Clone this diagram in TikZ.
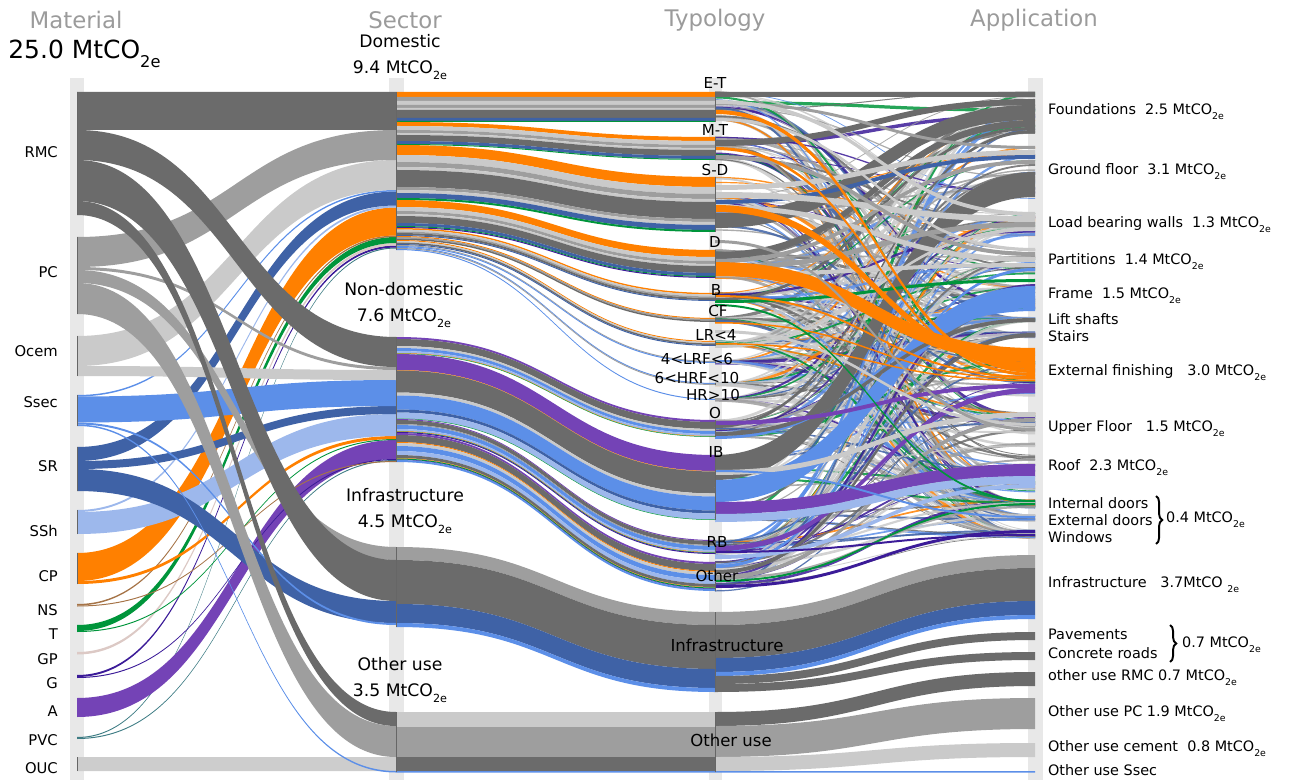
\documentclass[tikz,border=0pt]{standalone}
\usepackage{fontspec}
\setmainfont{DejaVu Sans}
\usetikzlibrary{decorations.pathreplacing}

\definecolor{rmc}{HTML}{6B6B6B}
\definecolor{pc}{HTML}{9E9E9E}
\definecolor{ocem}{HTML}{CACACA}
\definecolor{ssec}{HTML}{5C8FE8}
\definecolor{sr}{HTML}{3F62A6}
\definecolor{ssh}{HTML}{9DB8EC}
\definecolor{cp}{HTML}{FF8000}
\definecolor{ns}{HTML}{A67448}
\definecolor{tim}{HTML}{00953B}
\definecolor{gp}{HTML}{DCC9C5}
\definecolor{gla}{HTML}{3B1B98}
\definecolor{alu}{HTML}{7443B6}
\definecolor{pvc}{HTML}{3E7C84}
\definecolor{ouc}{HTML}{CDCDCD}
\definecolor{barc}{HTML}{E8E8E8}
\definecolor{headgrey}{HTML}{9B9B9B}

% subscript of the unit
\newcommand{\subtx}[1]{\raisebox{-0.35em}{\scalebox{0.65}{#1}}}
\newcommand{\unit}{MtCO\subtx{2e}}

% one flow: x1, y1, x2, y2, width, colour
\newcommand{\band}[6]{%
  \fill[fill=#6] (#1,#2) .. controls ({(#1+#3)/2},#2) and ({(#1+#3)/2},#4) .. (#3,#4)
    -- (#3,{#4+#5}) .. controls ({(#1+#3)/2},{#4+#5}) and ({(#1+#3)/2},{#2+#5}) .. (#1,{#2+#5}) -- cycle;}

% flows stacked on each other: x1, y1, x2, y2, list colour/width
\newcommand{\stackband}[5]{%
  \gdef\sboff{0}%
  \foreach \cc/\ww in {#5}{%
    \band{#1}{#2+\sboff}{#3}{#4+\sboff}{\ww}{\cc}%
    \pgfmathsetmacro\sbnew{\sboff+\ww}%
    \global\let\sboff\sbnew
  }}

% colour of a thin flow
\newcommand{\thincol}[1]{\ifcase\numexpr#1\relax ocem\or pc\or ocem\or rmc\or pc\or sr\or tim\or gla\or cp\or ssec\or ocem\else pc\fi}

\begin{document}
\begin{tikzpicture}[x=0.02cm, y=-0.02cm,
  head/.style={text=headgrey, font=\fontsize{13}{15}\selectfont},
  sect/.style={align=center, inner sep=0pt, font=\fontsize{9.8}{14.7}\selectfont},
  matl/.style={anchor=east, font=\fontsize{8.4}{10}\selectfont},
  typl/.style={inner sep=0.5pt, font=\fontsize{8.6}{10}\selectfont},
  appl/.style={anchor=west, inner sep=1pt, font=\fontsize{8.2}{10}\selectfont},
  nodeline/.style={draw=black!60, line width=0.5pt},
  brace/.style={decorate, decoration={brace, amplitude=3.5pt}, line width=1.1pt}]

\useasboundingbox (0,0) rectangle (1301,780);

% COLUMN BARS
\fill[barc] (70,78) rectangle (84,780);
\fill[barc] (389,78) rectangle (404,780);
\fill[barc] (709,78) rectangle (722,780);
\fill[barc] (1028,78) rectangle (1043,780);

% MATERIAL -> SECTOR
\band{77}{757}{396}{757}{14}{ouc}
\band{77}{737}{396}{247.5}{1}{pvc}
\band{77}{738}{396}{460}{1}{pvc}
\band{77}{698}{396}{440}{19}{alu}
\band{77}{675}{396}{245.5}{2}{gla}
\band{77}{677}{396}{459}{1}{gla}
\band{77}{652}{396}{243}{2.5}{gp}
\band{77}{625}{396}{237}{6}{tim}
\band{77}{631}{396}{439}{1}{tim}
\band{77}{604}{396}{235.5}{1.5}{ns}
\band{77}{605.5}{396}{461}{1}{ns}
\band{77}{553}{396}{207.5}{28}{cp}
\band{77}{581}{396}{436}{3}{cp}
\band{77}{510}{396}{205.5}{2}{ssh}
\band{77}{512}{396}{414}{22}{ssh}
\band{77}{447}{396}{191.5}{14}{sr}
\band{77}{461}{396}{406}{8}{sr}
\band{77}{469}{396}{601}{22}{sr}
\band{77}{395}{396}{190}{1.5}{ssec}
\band{77}{396.5}{396}{380}{26}{ssec}
\band{77}{422.5}{396}{623}{2}{ssec}
\band{77}{424.5}{396}{771}{1.5}{ssec}
\band{77}{336}{396}{160}{30}{ocem}
\band{77}{366}{396}{370}{10}{ocem}
\band{77}{237}{396}{130}{30}{pc}
\band{77}{267}{396}{367}{3}{pc}
\band{77}{270}{396}{547}{13}{pc}
\band{77}{283}{396}{726}{31}{pc}
\band{77}{92}{396}{92}{38}{rmc}
\band{77}{130}{396}{337}{30}{rmc}
\band{77}{160}{396}{560}{41}{rmc}
\band{77}{201}{396}{712}{14}{rmc}

% SECTOR -> TYPOLOGY
% domestic
\stackband{396}{92}{715}{92}{cp/5,pc/4,ocem/4,pc/3,ocem/2,rmc/8,sr/3,tim/1}
\stackband{396}{122}{715}{137}{cp/4,ocem/4,pc/3,ocem/2,rmc/6,sr/3,tim/1}
\stackband{396}{145}{715}{177}{cp/10,ocem/7,pc/5,ocem/3,rmc/17,pc/3,ocem/3,sr/5,tim/2}
\stackband{396}{200}{715}{250}{cp/7,ocem/4,pc/3,ocem/2,rmc/7,sr/3,tim/1,gla/1}
\stackband{396}{228}{715}{293}{cp/1.5,ocem/2,pc/1.5,rmc/2,sr/1}
\stackband{396}{236}{715}{318}{cp/1,pc/1.5,rmc/1.5}
\stackband{396}{240}{715}{341}{cp/1,ocem/1.5,rmc/1.5,sr/1}
\stackband{396}{245}{715}{361}{pc/1,ssec/1}
\stackband{396}{247}{715}{383}{ssec/1,pc/1}
\stackband{396}{249}{715}{399}{ssec/1}
% non-domestic
\stackband{396}{337}{715}{420}{alu/2,rmc/7,ocem/2,ssec/3,ssh/2,cp/0.5,tim/0.5}
\stackband{396}{354}{715}{455}{alu/16,cp/0.5,rmc/22,ocem/3,ssec/14,sr/3,ssh/6,tim/0.5}
\stackband{396}{419}{715}{540}{alu/1,rmc/4,pc/1,ssec/4,ssh/2,cp/0.5,tim/0.5,gla/1}
\stackband{396}{433}{715}{562}{alu/2,rmc/7,cp/1,ocem/3,ssec/5,ssh/4,rmc/3,cp/0.5,tim/1,gla/0.5,ssec/2}
% infrastructure and other use
\stackband{396}{547}{715}{612}{pc/13,rmc/44,sr/19,ssec/4}
\stackband{396}{712}{715}{712}{ocem/15,pc/30,rmc/14,ssec/1.5}

% TYPOLOGY -> APPLICATION
% thin flows between buildings and elements
\pgfmathsetseed{12}
\foreach \ya/\ha in {92/30,137/23,177/55,250/28,293/8,318/4,341/5,361/2,383/2,399/1,420/17,455/65,540/14,562/29}{
  \foreach \yb/\hb in {92/42,146/54,212/24,248/26,282/30,318/4,333/4,348/48,410/37,452/40,500/7,515/6,530/8}{
    \pgfmathsetmacro\fya{\ya+rnd*\ha}
    \pgfmathsetmacro\fyb{\yb+rnd*\hb}
    \pgfmathtruncatemacro\ci{int(rnd*11)}
    \pgfmathsetmacro\lw{0.4+1.6*rnd}
    \edef\cname{\thincol{\ci}}
    \draw[draw=\cname, line width=\lw pt, opacity=0.85] (715,\fya) .. controls (875,\fya) and (875,\fyb) .. (1035,\fyb);
  }
}
\pgfmathsetseed{31}
\foreach \ya/\ha in {92/30,137/23,177/55,250/28,293/8,341/5,420/17,455/65,540/14,562/29}{
  \foreach \yb/\hb in {92/42,146/54,212/24,248/26,282/30,348/48,410/37,452/40,500/7,530/8}{
    \pgfmathsetmacro\fya{\ya+rnd*\ha}
    \pgfmathsetmacro\fyb{\yb+rnd*\hb}
    \pgfmathtruncatemacro\ci{int(rnd*11)}
    \pgfmathsetmacro\lw{0.3+1.0*rnd}
    \edef\cname{\thincol{\ci}}
    \draw[draw=\cname, line width=\lw pt, opacity=0.85] (715,\fya) .. controls (875,\fya) and (875,\fyb) .. (1035,\fyb);
  }
}
% foundations
\band{715}{92}{1035}{92}{5}{rmc}
\band{715}{140}{1035}{99}{6}{rmc}
\band{715}{213}{1035}{105}{15}{rmc}
\band{715}{252}{1035}{120}{7}{rmc}
\band{715}{298}{1035}{127}{3}{rmc}
\band{715}{425}{1035}{130}{3}{rmc}
% ground floor
\band{715}{102}{1035}{146}{3}{pc}
\band{715}{185}{1035}{150}{5}{ocem}
\band{715}{200}{1035}{155}{4}{sr}
\band{715}{259}{1035}{160}{4}{pc}
\band{715}{455}{1035}{172}{25}{rmc}
% load bearing walls
\band{715}{100}{1035}{212}{4}{ocem}
\band{715}{192}{1035}{216}{6}{ocem}
\band{715}{265}{1035}{222}{5}{pc}
\band{715}{345}{1035}{228}{3}{ocem}
% partitions
\band{715}{118}{1035}{248}{3}{ocem}
\band{715}{155}{1035}{252}{4}{pc}
\band{715}{205}{1035}{257}{5}{ocem}
\band{715}{272}{1035}{263}{4}{ocem}
\band{715}{565}{1035}{268}{3}{ssec}
% frame
\band{715}{300}{1035}{279}{3}{tim}
\band{715}{480}{1035}{286}{22}{ssec}
\band{715}{436}{1035}{308}{3}{ssec}
% lift shafts and stairs
\band{715}{432}{1035}{318}{4}{rmc}
\band{715}{570}{1035}{333}{4}{rmc}
% external finishing
\band{715}{262}{1035}{348}{14}{cp}
\band{715}{205}{1035}{362}{7}{cp}
\band{715}{110}{1035}{369}{4}{cp}
\band{715}{147}{1035}{373}{3}{cp}
\band{715}{295}{1035}{376}{2}{cp}
\band{715}{322}{1035}{378}{1.5}{cp}
\band{715}{343}{1035}{380}{1.5}{cp}
\band{715}{421}{1035}{384}{4}{alu}
\band{715}{546}{1035}{388}{5}{alu}
% upper floor
\band{715}{470}{1035}{412}{5}{ocem}
\band{715}{575}{1035}{418}{4}{pc}
\band{715}{330}{1035}{423}{3}{ocem}
\band{715}{240}{1035}{428}{3}{pc}
% roof
\band{715}{502}{1035}{464}{12}{alu}
\band{715}{514}{1035}{476}{8}{ssh}
\band{715}{555}{1035}{484}{4}{ssh}
% doors and windows
\band{715}{304}{1035}{500}{2}{tim}
\band{715}{580}{1035}{503}{2}{tim}
\band{715}{470}{1035}{516}{2}{ssec}
\band{715}{585}{1035}{530}{3}{gla}
\band{715}{551}{1035}{534}{2}{gla}
% infrastructure
\stackband{715}{612}{1035}{555}{pc/13,rmc/33,sr/14,ssec/4}
\band{715}{676}{1035}{632}{8}{rmc}
\band{715}{684}{1035}{652}{8}{rmc}
% other use
\band{715}{712}{1035}{672}{14}{rmc}
\band{715}{726}{1035}{698}{31}{pc}
\band{715}{757}{1035}{743}{14}{ocem}
\band{715}{771}{1035}{771}{1.5}{ssec}

% NODE LINES
\foreach \yt/\yu in {92/215,237/314,336/376,395/426,447/491,510/534,553/584,757/771}
  \draw[nodeline] (77,\yt) -- (77,\yu);
\foreach \yt/\yu in {92/250,337/462,547/627,712/772}
  \draw[nodeline] (396,\yt) -- (396,\yu);
\foreach \yt/\yu in {92/122,137/160,177/232,250/278,293/301,318/322,341/346,361/363,383/385,420/437,455/520,540/554,562/591,612/692,712/772}
  \draw[nodeline] (715,\yt) -- (715,\yu);

% HEADERS
\node[head] (hmat) at (76,20) {Material};
\node[head] (hsec) at (405,20) {Sector};
\node[head] (htyp) at (715,20) {Typology};
\node[head] (happ) at (1034,20) {Application};
\node[anchor=west, inner sep=0pt, font=\fontsize{14.2}{16}\selectfont] (total) at (8,54) {25.0 \unit};

% SECTOR LABELS
\node[sect] (ldom) at (400,57) {Domestic\\9.4 \unit};
\node[sect] (lnon) at (404,305) {Non-domestic\\7.6 \unit};
\node[sect] (linf) at (405,511) {Infrastructure\\4.5 \unit};
\node[sect] (loth) at (400,680) {Other use\\3.5 \unit};

% MATERIAL LABELS
\node[matl] (mrmc) at (64,152) {RMC};
\node[matl] (mpc) at (64,272) {PC};
\node[matl] (moce) at (64,351) {Ocem};
\node[matl] (msse) at (64,402) {Ssec};
\node[matl] (msr) at (64,466) {SR};
\node[matl] (mssh) at (64,531) {SSh};
\node[matl] (mcp) at (64,576) {CP};
\node[matl] (mns) at (64,610) {NS};
\node[matl] (mt) at (64,634) {T};
\node[matl] (mgp) at (64,659) {GP};
\node[matl] (mg) at (64,683) {G};
\node[matl] (ma) at (64,711) {A};
\node[matl] (mpvc) at (64,740) {PVC};
\node[matl] (mouc) at (64,768) {OUC};

% TYPOLOGY LABELS
\node[typl] (tet) at (715,83) {E-T};
\node[typl] (tmt) at (715,130) {M-T};
\node[typl] (tsd) at (715,170) {S-D};
\node[typl] (td) at (715,242) {D};
\node[typl] (tb) at (716,290) {B};
\node[typl] (tcf) at (718,311) {CF};
\node[typl] (tlr) at (716,335) {LR<4};
\node[typl] (tlrf) at (697,359) {4<LRF<6};
\node[typl] (thrf) at (697,378) {6<HRF<10};
\node[typl] (thr) at (713,395) {HR>10};
\node[typl] (to) at (715,413) {O};
\node[typl] (tib) at (716,452) {IB};
\node[typl] (trb) at (717,542) {RB};
\node[typl] (toth) at (717,576) {Other};
\node[typl, font=\fontsize{9.4}{11}\selectfont] (tinf) at (727,645) {Infrastructure};
\node[typl, font=\fontsize{9.4}{11}\selectfont] (tuse) at (731,740) {Other use};

% APPLICATION LABELS
\node[appl] (afou) at (1046,112) {Foundations\ \ 2.5 \unit};
\node[appl] (agro) at (1046,172) {Ground floor\ \ 3.1 \unit};
\node[appl] (alb) at (1046,225) {Load bearing walls\ \ 1.3 \unit};
\node[appl] (apar) at (1046,262) {Partitions\ \ 1.4 \unit};
\node[appl] (afra) at (1046,296) {Frame\ \ 1.5 \unit};
\node[appl] (alift) at (1046,319) {Lift shafts};
\node[appl] (asta) at (1046,336) {Stairs};
\node[appl] (aext) at (1046,373) {External finishing\ \ \ 3.0 \unit};
\node[appl] (aupp) at (1046,429) {Upper Floor\ \ \ 1.5 \unit};
\node[appl] (aroof) at (1046,468) {Roof\ \ 2.3 \unit};
\node[appl] (aint) at (1046,503) {Internal doors};
\node[appl] (aexd) at (1046,520) {External doors};
\node[appl] (awin) at (1046,537) {Windows};
\draw[brace] (1156,496) -- (1156,544);
\node[appl] (adw) at (1164,520) {0.4 \unit};
\node[appl] (ainf) at (1046,585) {Infrastructure\ \ \ 3.7MtCO\ \subtx{2e}};
\node[appl] (apav) at (1046,634) {Pavements};
\node[appl] (aroa) at (1046,653) {Concrete roads};
\draw[brace] (1170,625) -- (1170,662);
\node[appl] (apr) at (1180,645) {0.7 \unit};
\node[appl] (armc) at (1046,678) {other use RMC\ 0.7 \unit};
\node[appl] (apc) at (1046,714) {Other use PC\ 1.9 \unit};
\node[appl] (acem) at (1046,749) {Other use cement\ \ 0.8 \unit};
\node[appl] (assec) at (1046,770) {Other use Ssec};

\end{tikzpicture}
\end{document}
